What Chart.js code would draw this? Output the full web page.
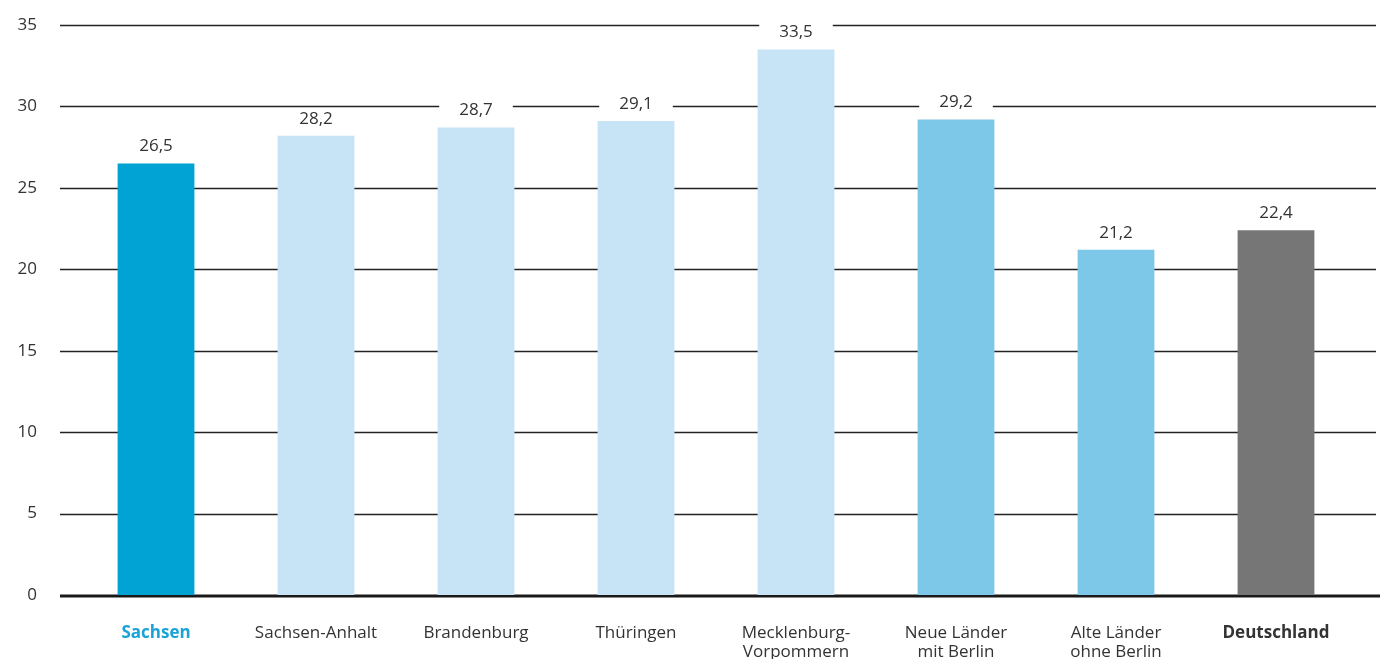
<!DOCTYPE html>
<html>
<head>
<meta charset="utf-8">
<script src="https://cdn.jsdelivr.net/npm/chart.js@4"></script>
<style>
  html, body { margin: 0; padding: 0; background: #fff; }
  #wrap { width: 1380px; height: 659px; }
</style>
</head>
<body>
<div id="wrap"><canvas id="myChart" width="1380" height="659"></canvas></div>
<script>
// categories and values (percent)
var laender = ['Sachsen', 'Sachsen-Anhalt', 'Brandenburg', 'Thüringen',
    ['Mecklenburg-', 'Vorpommern'], ['Neue Länder', 'mit Berlin'], ['Alte Länder', 'ohne Berlin'], 'Deutschland'];
var werte = [26.5, 28.2, 28.7, 29.1, 33.5, 29.2, 21.2, 22.4];
var farben = ['#00a3d4', '#c6e4f5', '#c6e4f5', '#c6e4f5', '#c6e4f5', '#7dc8e8', '#7dc8e8', '#767676'];
var yTicks = [0, 5, 10, 15, 20, 25, 30, 35];

var FONT = "'Open Sans', 'Liberation Sans', sans-serif";

// number format with a comma
function fmt(v) {
    return v.toFixed(1).replace('.', ',');
}

// horizontal lines, drawn a bit wider than the bar area
var gridLines = {
    id: 'gridLines',
    beforeDatasetsDraw: function (chart) {
        var ctx = chart.ctx;
        var y = chart.scales.y;
        ctx.save();
        yTicks.forEach(function (t) {
            var py = Math.round(y.getPixelForValue(t));
            ctx.beginPath();
            if (t === 0) {
                ctx.lineWidth = 3;
                ctx.strokeStyle = '#1a1a1a';
                ctx.moveTo(60, py + 1);
                ctx.lineTo(chart.width, py + 1);
            } else {
                ctx.lineWidth = 1.5;
                ctx.strokeStyle = '#222';
                ctx.moveTo(60, py + 0.5);
                ctx.lineTo(chart.chartArea.right + 20, py + 0.5);
            }
            ctx.stroke();
        });
        ctx.restore();
    }
};

// value labels above bars, on a white box so the lines break around them
var valueLabels = {
    id: 'valueLabels',
    afterDatasetsDraw: function (chart) {
        var ctx = chart.ctx;
        var meta = chart.getDatasetMeta(0);
        ctx.save();
        ctx.font = '17px ' + FONT;
        ctx.textAlign = 'center';
        ctx.textBaseline = 'middle';
        meta.data.forEach(function (bar, i) {
            var txt = fmt(werte[i]);
            var w = ctx.measureText(txt).width;
            var ty = bar.y - 17;
            ctx.fillStyle = '#fff';
            ctx.fillRect(bar.x - w / 2 - 20, ty - 10, w + 40, 20);
            ctx.fillStyle = '#333';
            ctx.fillText(txt, bar.x, ty);
        });
        ctx.restore();
    }
};

const data = {
    labels: laender,
    datasets: [{
        data: werte,
        backgroundColor: farben,
        barPercentage: 0.48,
        categoryPercentage: 1
    }]
};

const config = {
    type: 'bar',
    data,
    options: {
        responsive: false,
        animation: false,
        layout: { padding: { top: 25, right: 24, left: 0, bottom: 0 } },
        plugins: {
            legend: { display: false },
            tooltip: { enabled: false }
        },
        scales: {
            y: {
                min: 0,
                max: 35,
                border: { display: false },
                grid: { display: false },
                afterFit: function (scale) {
                    scale.width = 76;
                    scale.paddingTop = 0;
                    scale.paddingBottom = 0;
                },
                ticks: {
                    stepSize: 5,
                    padding: 31,
                    color: '#333',
                    font: { family: FONT, size: 17 }
                }
            },
            x: {
                border: { display: false },
                grid: { display: false },
                afterFit: function (scale) {
                    scale.height = 64;
                    scale.paddingLeft = 0;
                    scale.paddingRight = 0;
                },
                ticks: {
                    padding: 21,
                    maxRotation: 0,
                    autoSkip: false,
                    color: function (c) {
                        return c.index === 0 ? '#1aa3d4' : '#333';
                    },
                    font: function (c) {
                        var bold = c.index === 0 || c.index === 7;
                        return { family: FONT, size: 17, weight: bold ? 'bold' : 'normal', lineHeight: 1.1 };
                    }
                }
            }
        }
    },
    plugins: [gridLines, valueLabels]
};

var myChart = new Chart(document.getElementById('myChart'), config);
</script>
</body>
</html>
